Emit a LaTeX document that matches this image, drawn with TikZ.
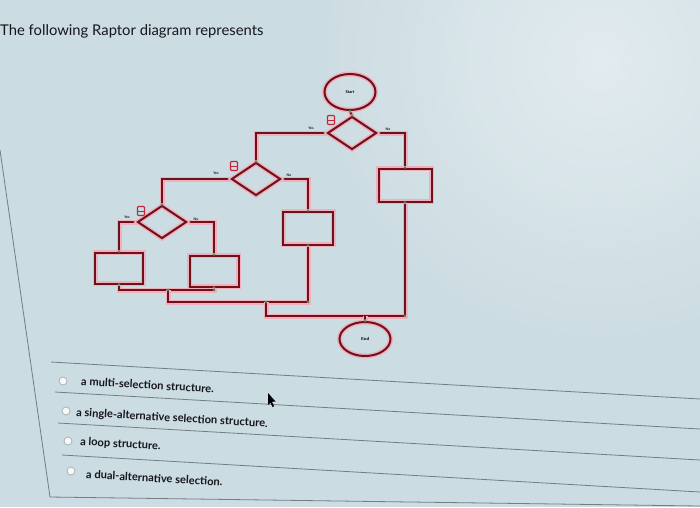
\documentclass[tikz,border=0pt]{standalone}
\usepackage{fontspec}
\setmainfont{Lato}
\newfontfamily\tinyserif{Liberation Serif}
\usetikzlibrary{shapes.geometric,backgrounds}
\definecolor{bg}{RGB}{203,220,226}
\definecolor{wire}{RGB}{112,16,26}
\definecolor{halo}{RGB}{238,176,188}
\definecolor{dotc}{RGB}{70,150,100}
\definecolor{rulec}{RGB}{115,125,130}
\definecolor{ink}{RGB}{22,22,28}
\definecolor{markc}{RGB}{200,35,55}
\begin{document}
\begin{tikzpicture}[x=1pt,y=-1pt,
  wirestyle/.style={draw=wire,line width=2pt,line join=miter,preaction={draw=halo,line width=5pt}},
  termnode/.style={ellipse,draw=wire,line width=2pt,preaction={draw=halo,line width=5pt},minimum width=51pt,minimum height=36pt,inner sep=0pt,font=\bfseries\fontsize{4}{4}\selectfont},
  decnode/.style={diamond,draw=wire,line width=2pt,preaction={draw=halo,line width=5pt},minimum width=49pt,minimum height=33pt,inner sep=0pt},
  boxnode/.style={rectangle,draw=wire,line width=2pt,preaction={draw=halo,line width=5pt},minimum width=50pt,minimum height=32pt,inner sep=0pt},
  tinylabel/.style={font=\bfseries\fontsize{3.5}{3.5}\selectfont,text=ink,inner sep=0pt},
  optiontext/.style={anchor=west,rotate=-3.3,font=\bfseries\fontsize{11.1}{11.5}\selectfont,text=ink,inner sep=0pt},
  radio/.style={circle,draw=rulec!55,fill=white!85!bg,line width=0.9pt,minimum size=8pt,inner sep=0pt},
  sepline/.style={draw=rulec,line width=0.8pt},
  junction/.style={circle,fill=dotc,minimum size=2.6pt,inner sep=0pt},
  flagnode/.style={draw=markc,line width=1.1pt,rounded corners=0.8pt,minimum width=7pt,minimum height=9pt,inner sep=0pt,
     path picture={\draw[markc,line width=1pt] (path picture bounding box.west) -- (path picture bounding box.east);}}
]
\useasboundingbox (0,0) rectangle (700,507);

% title
\node[anchor=base west,inner sep=0pt,font=\fontsize{14.8}{15}\selectfont,text=ink] (title) at (0,35) {The following Raptor diagram represents};

% flowchart nodes
\node[termnode] (start) at (350,92) {Start};
\node[decnode] (d1) at (352,133) {};
\node[decnode] (d2) at (256,179) {};
\node[decnode] (d3) at (162,222) {};
\node[boxnode,minimum width=53pt,minimum height=33pt] (b1) at (405,185) {};
\node[boxnode,minimum width=50pt,minimum height=33pt] (b2) at (308,228) {};
\node[boxnode,minimum width=48pt,minimum height=31pt] (b3) at (119,268) {};
\node[boxnode,minimum width=49pt,minimum height=31pt] (b4) at (214,271) {};
\node[termnode,minimum height=34pt,font=\tinyserif\bfseries\fontsize{4.5}{4.5}\selectfont] (end) at (365,339) {End};

% flags and labels
\node[flagnode] (f1) at (331,120) {};
\node[flagnode] (f2) at (234,166) {};
\node[flagnode] (f3) at (141,211) {};
\node[tinylabel] (y1) at (311,128) {Yes};
\node[tinylabel] (n1) at (388,129) {No};
\node[tinylabel] (y2) at (216,173) {Yes};
\node[tinylabel] (n2) at (289,175) {No};
\node[tinylabel] (y3) at (127,217) {Yes};
\node[tinylabel] (n3) at (196,219) {No};

% merge points
\coordinate (m1l) at (b3.south |- 0,290);
\coordinate (m1r) at (b4.south |- 0,290);
\coordinate (m1) at (168,290);
\coordinate (m2a) at (168,302);
\coordinate (m2r) at (b2.south |- 0,302);
\coordinate (m2) at (266,302);
\coordinate (m3a) at (266,316);
\coordinate (m3r) at (b1.south |- 0,316);
\coordinate (m3) at (end.north |- 0,316);

\begin{scope}[on background layer]
  \fill[bg] (0,0) rectangle (700,507);
  \shade[inner color=white,outer color=bg,opacity=0.45] (600,60) circle (300);
  \path[wirestyle] (start.south) -- (d1.north);
  \path[wirestyle] (d1.west) -| (d2.north);
  \path[wirestyle] (d1.east) -| (b1.north);
  \path[wirestyle] (d2.west) -| (d3.north);
  \path[wirestyle] (d2.east) -| (b2.north);
  \path[wirestyle] (d3.west) -| (b3.north);
  \path[wirestyle] (d3.east) -| (b4.north);
  \path[wirestyle] (b3.south) -- (m1l) -- (m1r) -- (b4.south);
  \path[wirestyle] (m1) -- (m2a) -- (m2r) -- (b2.south);
  \path[wirestyle] (m2) -- (m3a) -- (m3r) -- (b1.south);
  \path[wirestyle] (m3) -- (end.north);
\end{scope}

% junction dots
\foreach \p in {start.south,d1.north,d2.north,d3.north,b1.north,b2.north,b3.north,b4.north,b3.south,b4.south,b2.south,b1.south,m1,m2,m1r,m2r,m3r,end.north}
  \node[junction] at (\p) {};

% frame and separators
\draw[sepline] (0,150) -- (50,497) -- (700,506);
\draw[sepline] (51,362) -- (700,399);
\draw[sepline] (55,392) -- (700,429);
\draw[sepline] (58,423) -- (700,460);
\draw[sepline] (62,455) -- (700,492);

% options
\node[radio] (r1) at (63,381) {};
\node[radio] (r2) at (66,411) {};
\node[radio] (r3) at (68,441) {};
\node[radio] (r4) at (71,471) {};
\node[optiontext] (o1) at (81,381) {a multi-selection structure.};
\node[optiontext] (o2) at (76,413) {a single-alternative selection structure.};
\node[optiontext] (o3) at (80,442) {a loop structure.};
\node[optiontext] (o4) at (86,474) {a dual-alternative selection.};

% cursor
\fill[black] (268,393) -- (268,405) -- (270.5,402.5) -- (272.5,407) -- (274,406.3) -- (272,401.8) -- (275.5,401.5) -- cycle;
\end{tikzpicture}
\end{document}
